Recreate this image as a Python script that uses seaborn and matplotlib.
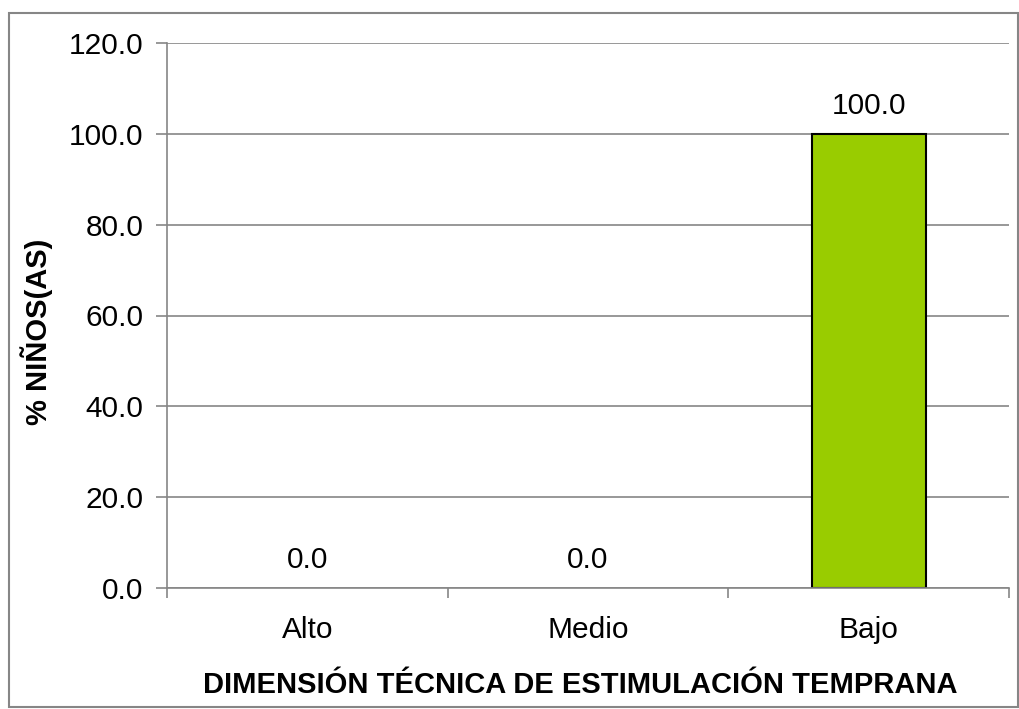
import numpy as np
import pandas as pd
import matplotlib
matplotlib.use("Agg")
import matplotlib.pyplot as plt
import seaborn as sns
from matplotlib.patches import Rectangle

# chart data
categorias = ["Alto", "Medio", "Bajo"]
porcentajes = [0.0, 0.0, 100.0]

df = pd.DataFrame({"nivel": categorias, "pct": porcentajes})

sns.set_style("white")
plt.rcParams["font.family"] = ["Liberation Sans", "DejaVu Sans"]
plt.rcParams["text.color"] = "black"
plt.rcParams["xtick.color"] = "black"
plt.rcParams["ytick.color"] = "black"
plt.rcParams["axes.labelcolor"] = "black"

fig = plt.figure(figsize=(10.2, 7.09), dpi=100)
ax = fig.add_axes([167 / 1020, 1 - 588 / 709, (1009 - 167) / 1020, (588 - 43) / 709])

sns.barplot(data=df, x="nivel", y="pct", color="#99cc00", width=0.406,
            edgecolor="black", linewidth=1.5, saturation=1, ax=ax)
# no outline on empty bars
for p in ax.patches:
    if p.get_height() == 0:
        p.set_linewidth(0)

ax.set_ylim(0, 120)
ax.set_xlim(-0.5, 2.5)
ax.set_yticks(np.arange(0, 121, 20))
ax.set_yticklabels([f"{v:.1f}" for v in np.arange(0, 121, 20)], fontsize=21.5)
ax.yaxis.grid(True, color="#868686", linewidth=1.2)
ax.set_axisbelow(True)

# category ticks sit between bars (Excel style)
ax.set_xticks([-0.5, 0.5, 1.5, 2.5], minor=False)
ax.set_xticklabels([])
ax.set_xticks([0, 1, 2], minor=True)
ax.set_xticklabels(categorias, minor=True, fontsize=21.5)
ax.tick_params(axis="x", which="major", bottom=True, length=7, width=1.2, color="#868686")
ax.tick_params(axis="x", which="minor", bottom=False, pad=18)
ax.tick_params(axis="y", left=True, length=8, width=1.2, color="#868686", pad=9)

for side in ["top", "right"]:
    ax.spines[side].set_visible(False)
for side in ["left", "bottom"]:
    ax.spines[side].set_color("#868686")
    ax.spines[side].set_linewidth(1.2)

for i, v in enumerate(porcentajes):
    ax.text(i, v + 3, f"{v:.1f}", ha="center", va="bottom", fontsize=21.5)

ax.set_xlabel("DIMENSIÓN TÉCNICA DE ESTIMULACIÓN TEMPRANA", fontsize=21,
              fontweight="bold")
ax.set_ylabel("% NIÑOS(AS)", fontsize=21, fontweight="bold")
ax.xaxis.set_label_coords(0.4905, -0.152)
ax.yaxis.set_label_coords(-0.135, 0.47)

# outer chart-area border
fig.patches.append(Rectangle((9 / 1020, 1 - 707 / 709), 1009 / 1020, 694 / 709,
                             transform=fig.transFigure, fill=False,
                             edgecolor="#868686", linewidth=1.5))

fig.savefig("out.png", dpi=100)
